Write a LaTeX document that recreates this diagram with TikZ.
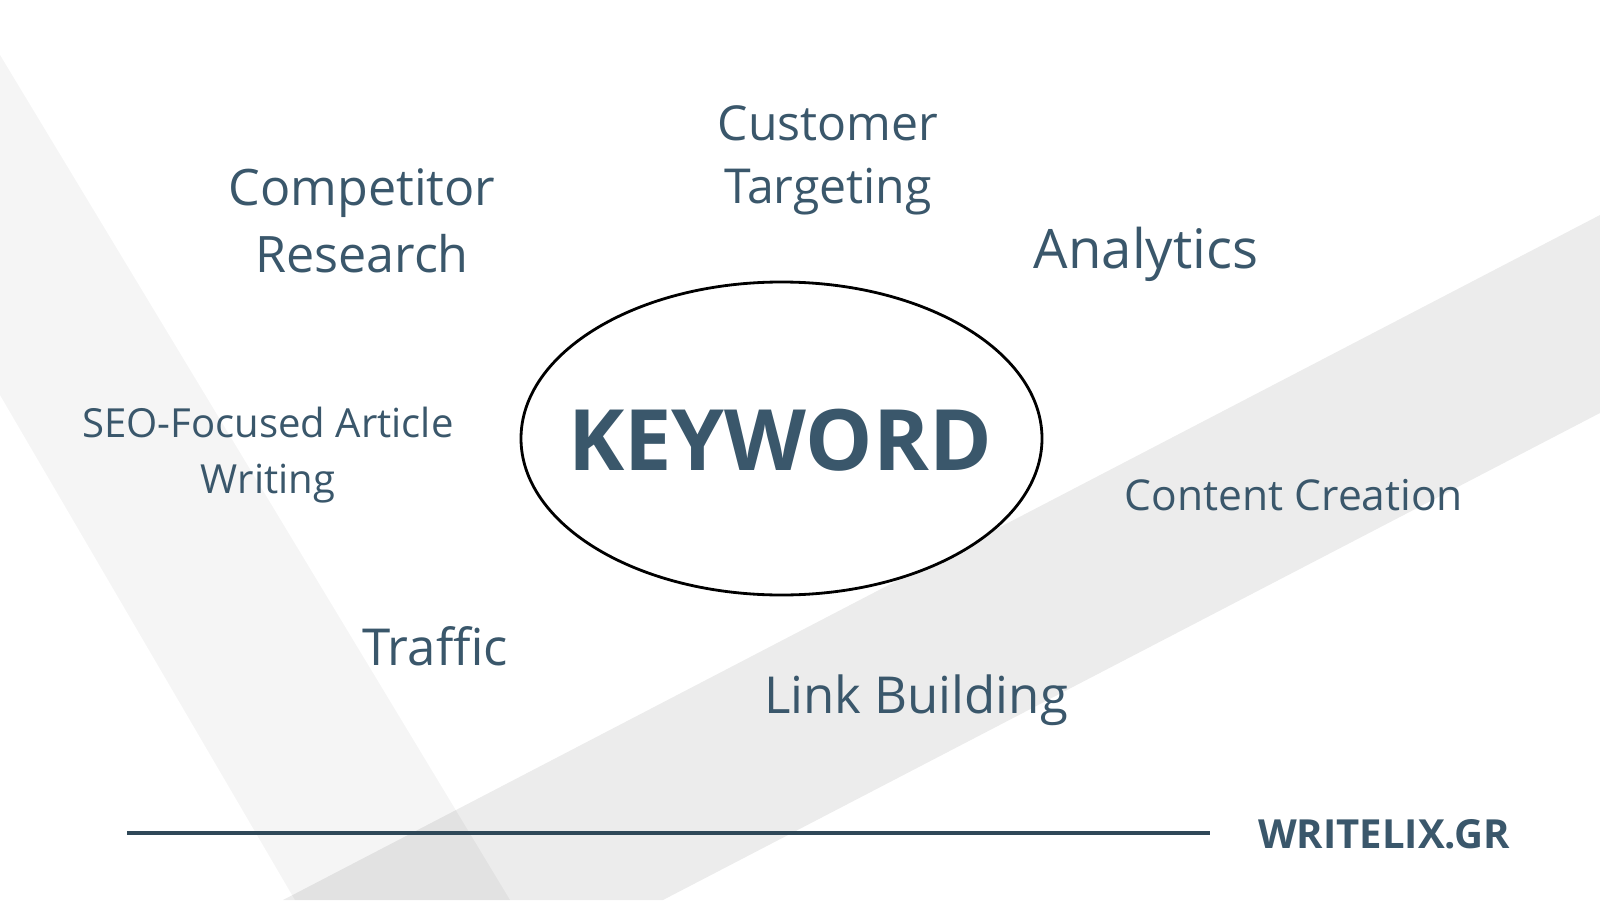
\documentclass[tikz,border=0pt]{standalone}
\usepackage{fontspec}
\setmainfont{Open Sans}
\usetikzlibrary{shapes.geometric}
\definecolor{slate}{RGB}{58,87,107}
\definecolor{rulecol}{RGB}{47,72,88}

\begin{document}
\begin{tikzpicture}[
    label/.style={text=slate, inner sep=0pt, anchor=base, align=center},
    band/.style={fill=black, fill opacity=#1}
  ]
  \useasboundingbox (0,0) rectangle (16,9);
  \fill[white] (0,0) rectangle (16,9); % Page background

  % Light diagonal bands
  \fill[band=0.04] (0,8.45) -- (0,5.05) -- (2.95,0) -- (5.10,0) -- cycle; % Left band
  \fill[band=0.075] (16,6.85) -- (16,4.87) -- (6.63,0) -- (2.83,0) -- cycle; % Right band

  % Central keyword
  \node[draw=black, line width=0.8pt, fill=white, ellipse, minimum width=5.21cm, minimum height=3.13cm] (oval) at (7.815,4.615) {};
  \node[label, font=\fontsize{24.1}{28}\selectfont\bfseries] (keyword) at (7.80,4.30) {KEYWORD};

  % Surrounding topics (base = last line)
  \node[label, font=\fontsize{14.3}{19.3}\selectfont] (competitor) at (3.62,6.27) {Competitor\\Research};
  \node[label, font=\fontsize{13.7}{18.2}\selectfont] (customer) at (8.28,6.96) {Customer\\Targeting};
  \node[label, font=\fontsize{15.5}{18}\selectfont] (analytics) at (11.46,6.32) {Analytics};
  \node[label, font=\fontsize{11.4}{15.9}\selectfont] (seo) at (2.68,4.07) {SEO-Focused Article\\Writing};
  \node[label, font=\fontsize{12.1}{14}\selectfont] (content) at (12.94,3.90) {Content Creation};
  \node[label, font=\fontsize{14.5}{18}\selectfont] (traffic) at (4.35,2.35) {Traffic};
  \node[label, font=\fontsize{14.5}{18}\selectfont] (linkbuild) at (9.16,1.87) {Link Building};

  % Footer
  \coordinate (ruleL) at (1.27,0.67);
  \coordinate (ruleR) at (12.10,0.67);
  \draw[rulecol, line width=0.9pt] (ruleL) -- (ruleR); % Footer rule
  \node[label, font=\fontsize{11.4}{14}\selectfont\bfseries] (brand) at (13.84,0.52) {WRITELIX.GR};
\end{tikzpicture}
\end{document}
